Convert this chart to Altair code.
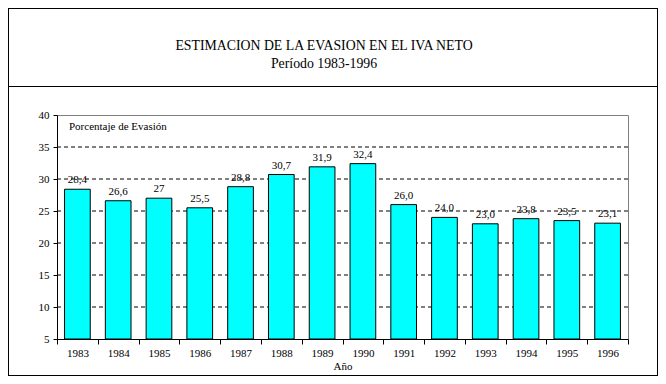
import altair as alt
import pandas as pd

years = ["1983", "1984", "1985", "1986", "1987", "1988", "1989",
         "1990", "1991", "1992", "1993", "1994", "1995", "1996"]
evasion = [28.4, 26.6, 27.0, 25.5, 28.8, 30.7, 31.9, 32.4, 26.0, 24.0, 23.0, 23.8, 23.5, 23.1]
labels = ["28,4", "26,6", "27", "25,5", "28,8", "30,7", "31,9", "32,4",
          "26,0", "24,0", "23,0", "23,8", "23,5", "23,1"]
grid_values = [10, 15, 20, 25, 30, 35]
y_ticks = [5, 10, 15, 20, 25, 30, 35, 40]

title_line1 = "ESTIMACION DE LA EVASION EN EL IVA NETO"
title_line2 = "Período 1983-1996"
y_note = "Porcentaje de Evasión"
x_title = "Año"

FONT = "Liberation Serif"
W, H = 571, 224

df = pd.DataFrame({"year": years, "value": evasion, "label": labels})
grid_df = pd.DataFrame({"g": grid_values})

yscale = alt.Scale(domain=[5, 40], zero=False, nice=False)
xscale = alt.Scale(paddingInner=0, paddingOuter=0)

x_axis = alt.Axis(title=x_title, labelAngle=0, tickBand="extent",
                  tickSize=5, tickColor="black", domainColor="black",
                  labelFont=FONT, labelFontSize=11, labelColor="black",
                  labelPadding=3, titleFont=FONT, titleFontSize=11,
                  titleFontWeight="normal", titleColor="black",
                  titleY=27, titleBaseline="middle", labelOverlap=False)
y_axis = alt.Axis(title=None, values=y_ticks, grid=False, tickSize=4,
                  tickColor="black", domainColor="black",
                  labelFont=FONT, labelFontSize=11, labelColor="black",
                  labelPadding=4, labelOverlap=False)

base = alt.Chart(df)

grid = alt.Chart(grid_df).mark_rule(color="black", strokeDash=[4, 3], strokeWidth=1).encode(
    y=alt.Y("g:Q", scale=yscale, axis=y_axis)
)

bars = base.mark_bar(
    color="#00FFFF", stroke="black", strokeWidth=1,
    width=alt.RelativeBandSize(0.63)
).encode(
    x=alt.X("year:N", scale=xscale, sort=years, axis=x_axis),
    y=alt.Y("value:Q", scale=yscale, axis=y_axis),
    y2=alt.datum(5),
)

text = base.mark_text(font=FONT, fontSize=11, baseline="bottom", dy=-4, color="black").encode(
    x=alt.X("year:N", scale=xscale, sort=years, axis=x_axis),
    y=alt.Y("value:Q", scale=yscale, axis=y_axis),
    text="label:N",
)

def rule(x1, x2, y1, y2, color="black", w=1):
    return alt.Chart(df).mark_rule(color=color, strokeWidth=w).encode(
        x=alt.value(x1), x2=alt.value(x2), y=alt.value(y1), y2=alt.value(y2)
    )

L, R, T, B = -48.5, 600.5, -106.5, 260.5
SEP = -28.5
frame = [
    rule(L, R, T, T), rule(L, R, B, B), rule(L, L, T, B), rule(R, R, T, B),
    rule(L, R, SEP, SEP),
]

def label(txt, x, y, size=11, align="center"):
    return alt.Chart(pd.DataFrame({"t": [txt]})).mark_text(
        font=FONT, fontSize=size, align=align, baseline="middle", color="black"
    ).encode(x=alt.value(x), y=alt.value(y), text="t:N")

texts = [
    label(title_line1, 267, -69, 13.8),
    label(title_line2, 267, -51, 13.8),
    label(y_note, 12, 12, 11, "left"),
]

chart = alt.layer(grid, bars, text, *frame, *texts).properties(
    width=W, height=H,
    autosize=alt.AutoSizeParams(type="none"),
    padding={"left": 49, "top": 107, "right": 30, "bottom": 37},
    background="white",
).configure_view(stroke="#808080", strokeWidth=1)

chart.save("out.html", embed_options={"renderer": "svg", "actions": False})
